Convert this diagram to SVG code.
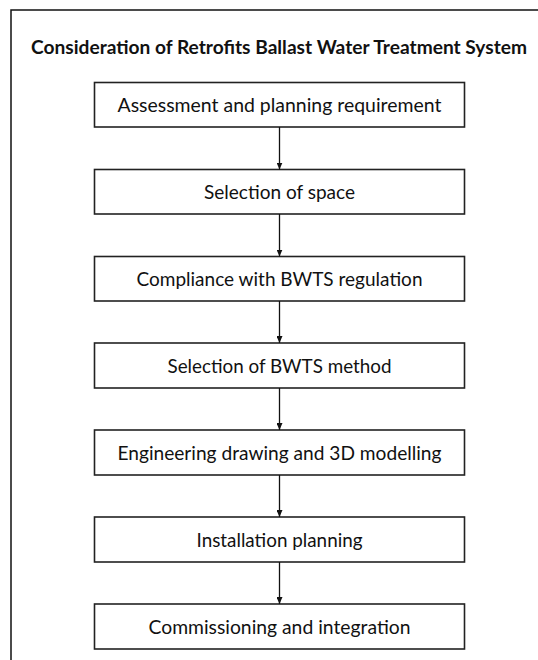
<svg xmlns="http://www.w3.org/2000/svg" width="538" height="660" viewBox="0 0 538 660">
<style>
.frame{fill:none;stroke:#111;stroke-width:1.5}
.box{fill:#fff;stroke:#222;stroke-width:1.6}
.lbl{font-family:Lato,"Liberation Sans",sans-serif;font-size:20px;fill:#111;text-anchor:middle}
.title{font-family:Lato,"Liberation Sans",sans-serif;font-size:19px;font-weight:bold;fill:#111}
.conn{stroke:#111;stroke-width:1.3;fill:none;marker-end:url(#ah)}
</style>
<defs>
<marker id="ah" viewBox="0 0 7 6" refX="7" refY="3" markerWidth="7" markerHeight="6" markerUnits="userSpaceOnUse" orient="auto">
<path d="M0,0 L7,3 L0,6 Z" fill="#111"/>
</marker>
</defs>
<rect x="0" y="0" width="538" height="660" fill="#fff"/>
<path class="frame" d="M11 661 V10 H539"/>
<text class="title" x="31" y="53.5" textLength="496" lengthAdjust="spacingAndGlyphs">Consideration of Retrofits Ballast Water Treatment System</text>
<g id="n1"><rect class="box" x="94.5" y="82.5" width="370" height="44.5"/><text class="lbl" x="279.5" y="111.5" textLength="324" lengthAdjust="spacingAndGlyphs">Assessment and planning requirement</text></g>
<g id="n2"><rect class="box" x="94.5" y="169.5" width="370" height="44.5"/><text class="lbl" x="279.5" y="198.5" textLength="151" lengthAdjust="spacingAndGlyphs">Selection of space</text></g>
<g id="n3"><rect class="box" x="94.5" y="256.5" width="370" height="44.5"/><text class="lbl" x="279.5" y="285.5" textLength="286" lengthAdjust="spacingAndGlyphs">Compliance with BWTS regulation</text></g>
<g id="n4"><rect class="box" x="94.5" y="343" width="370" height="45"/><text class="lbl" x="279.5" y="372.5" textLength="224" lengthAdjust="spacingAndGlyphs">Selection of BWTS method</text></g>
<g id="n5"><rect class="box" x="94.5" y="430" width="370" height="45"/><text class="lbl" x="279.5" y="459.5" textLength="324" lengthAdjust="spacingAndGlyphs">Engineering drawing and 3D modelling</text></g>
<g id="n6"><rect class="box" x="94.5" y="517" width="370" height="45"/><text class="lbl" x="279.5" y="546.5" textLength="166" lengthAdjust="spacingAndGlyphs">Installation planning</text></g>
<g id="n7"><rect class="box" x="94.5" y="604" width="370" height="45"/><text class="lbl" x="279.5" y="633.5" textLength="262" lengthAdjust="spacingAndGlyphs">Commissioning and integration</text></g>
<g id="connectors">
<line class="conn" x1="279.5" y1="127" x2="279.5" y2="169.5"/>
<line class="conn" x1="279.5" y1="214" x2="279.5" y2="256.5"/>
<line class="conn" x1="279.5" y1="301" x2="279.5" y2="343"/>
<line class="conn" x1="279.5" y1="388" x2="279.5" y2="430"/>
<line class="conn" x1="279.5" y1="475" x2="279.5" y2="517"/>
<line class="conn" x1="279.5" y1="562" x2="279.5" y2="604"/>
</g>
</svg>
